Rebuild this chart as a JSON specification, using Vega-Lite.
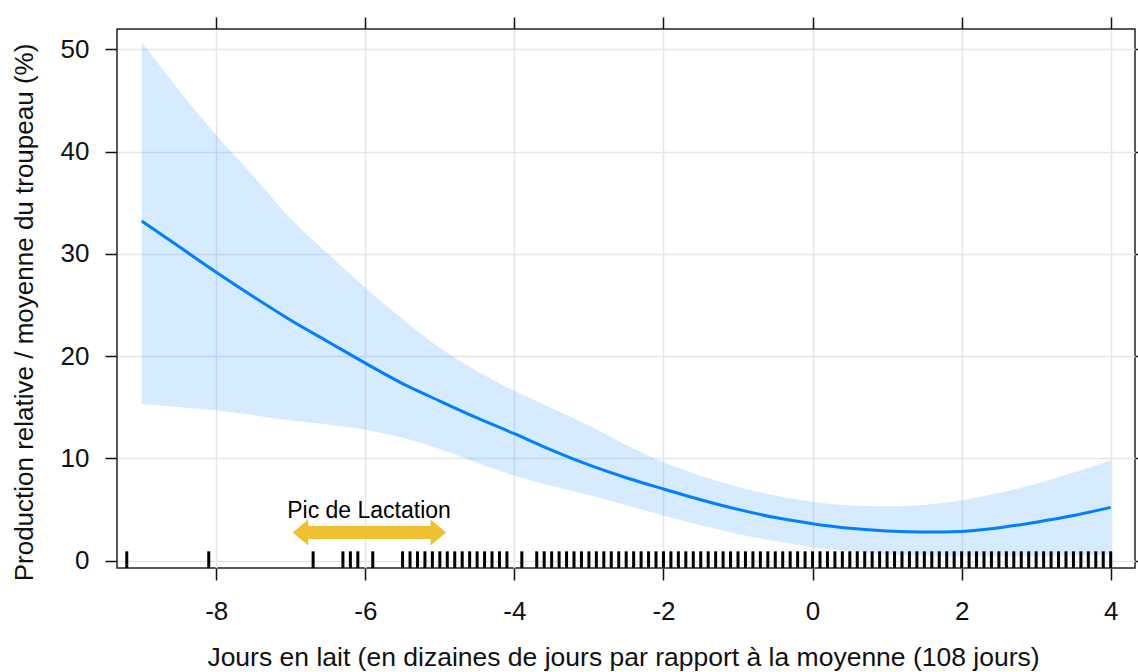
{
  "$schema": "https://vega.github.io/schema/vega-lite/v6.json",
  "width": 1018,
  "height": 539,
  "autosize": {"type": "none"},
  "padding": {"left": 117, "top": 29, "right": 3, "bottom": 104},
  "background": "white",
  "datasets": {
    "fit": [
      {"x": -9, "fit": 33.2, "lower": 15.3, "upper": 50.7},
      {"x": -8.5, "fit": 30.7, "lower": 15.0, "upper": 46.0},
      {"x": -8, "fit": 28.2, "lower": 14.7, "upper": 41.6},
      {"x": -7.5, "fit": 25.8, "lower": 14.2, "upper": 37.6},
      {"x": -7, "fit": 23.5, "lower": 13.7, "upper": 33.4},
      {"x": -6.5, "fit": 21.4, "lower": 13.3, "upper": 30.0},
      {"x": -6, "fit": 19.3, "lower": 12.8, "upper": 26.7},
      {"x": -5.5, "fit": 17.3, "lower": 12.0, "upper": 23.6},
      {"x": -5, "fit": 15.6, "lower": 10.9, "upper": 20.8},
      {"x": -4.5, "fit": 13.95, "lower": 9.55, "upper": 18.5},
      {"x": -4, "fit": 12.4, "lower": 8.3, "upper": 16.6},
      {"x": -3.5, "fit": 10.8, "lower": 7.3, "upper": 14.9},
      {"x": -3, "fit": 9.35, "lower": 6.4, "upper": 13.2},
      {"x": -2.5, "fit": 8.1, "lower": 5.4, "upper": 11.3},
      {"x": -2, "fit": 7.0, "lower": 4.4, "upper": 9.6},
      {"x": -1.5, "fit": 5.95, "lower": 3.45, "upper": 8.3},
      {"x": -1, "fit": 5.0, "lower": 2.6, "upper": 7.2},
      {"x": -0.5, "fit": 4.2, "lower": 1.9, "upper": 6.35},
      {"x": 0, "fit": 3.6, "lower": 1.3, "upper": 5.75},
      {"x": 0.5, "fit": 3.15, "lower": 0.9, "upper": 5.4},
      {"x": 1, "fit": 2.88, "lower": 0.6, "upper": 5.3},
      {"x": 1.5, "fit": 2.78, "lower": 0.5, "upper": 5.45},
      {"x": 2, "fit": 2.85, "lower": 0.4, "upper": 5.9},
      {"x": 2.5, "fit": 3.2, "lower": 0.4, "upper": 6.6},
      {"x": 3, "fit": 3.75, "lower": 0.4, "upper": 7.5},
      {"x": 3.5, "fit": 4.4, "lower": 0.5, "upper": 8.6},
      {"x": 4, "fit": 5.2, "lower": 0.6, "upper": 9.8}
    ],
    "rug": [
      {"x": -9.2}, {"x": -8.1}, {"x": -6.7}, {"x": -6.3}, {"x": -6.2}, {"x": -6.1}, {"x": -5.9},
      {"x": -5.5}, {"x": -5.4}, {"x": -5.3}, {"x": -5.2}, {"x": -5.1}, {"x": -5.0}, {"x": -4.9},
      {"x": -4.8}, {"x": -4.7}, {"x": -4.6}, {"x": -4.5}, {"x": -4.4}, {"x": -4.3}, {"x": -4.2},
      {"x": -4.1}, {"x": -3.9}, {"x": -3.7}, {"x": -3.6}, {"x": -3.5},
      {"x": -3.4}, {"x": -3.3}, {"x": -3.2}, {"x": -3.1}, {"x": -3.0}, {"x": -2.9}, {"x": -2.8},
      {"x": -2.7}, {"x": -2.6}, {"x": -2.5}, {"x": -2.4}, {"x": -2.3}, {"x": -2.2}, {"x": -2.1},
      {"x": -2.0}, {"x": -1.9}, {"x": -1.8}, {"x": -1.7}, {"x": -1.6}, {"x": -1.5}, {"x": -1.4},
      {"x": -1.3}, {"x": -1.2}, {"x": -1.1}, {"x": -1.0}, {"x": -0.9}, {"x": -0.8}, {"x": -0.7},
      {"x": -0.6}, {"x": -0.5}, {"x": -0.4}, {"x": -0.3}, {"x": -0.2}, {"x": -0.1}, {"x": 0.0},
      {"x": 0.1}, {"x": 0.2}, {"x": 0.3}, {"x": 0.4}, {"x": 0.5}, {"x": 0.6}, {"x": 0.7},
      {"x": 0.8}, {"x": 0.9}, {"x": 1.0}, {"x": 1.1}, {"x": 1.2}, {"x": 1.3}, {"x": 1.4},
      {"x": 1.5}, {"x": 1.6}, {"x": 1.7}, {"x": 1.8}, {"x": 1.9}, {"x": 2.0}, {"x": 2.1},
      {"x": 2.2}, {"x": 2.3}, {"x": 2.4}, {"x": 2.5}, {"x": 2.6}, {"x": 2.7}, {"x": 2.8},
      {"x": 2.9}, {"x": 3.0}, {"x": 3.1}, {"x": 3.2}, {"x": 3.3}, {"x": 3.4}, {"x": 3.5},
      {"x": 3.6}, {"x": 3.7}, {"x": 3.8}, {"x": 3.9}, {"x": 4.0}
    ],
    "arrow": [
      {"x": -6.87, "x2": -5.02, "y": 2.75, "lx": -5.95, "ly": 4.2, "label": "Pic de Lactation"}
    ]
  },
  "layer": [
    {
      "data": {"name": "fit"},
      "mark": {"type": "area", "color": "#0080ff", "opacity": 0.16, "interpolate": "monotone"},
      "encoding": {
        "x": {
          "field": "x", "type": "quantitative",
          "scale": {"domain": [-9.331, 4.326], "nice": false, "zero": false},
          "axis": {
            "orient": "bottom",
            "values": [-8, -6, -4, -2, 0, 2, 4],
            "labelExpr": "'' + datum.value",
            "title": "Jours en lait (en dizaines de jours par rapport à la moyenne (108 jours)",
            "titleFontSize": 26.5,
            "titleX": 506,
            "labelPadding": 18,
            "titlePadding": 20,
            "grid": true
          }
        },
        "y": {
          "field": "lower", "type": "quantitative",
          "scale": {"domain": [-0.73, 51.98], "nice": false, "zero": false},
          "axis": {
            "orient": "left",
            "values": [0, 10, 20, 30, 40, 50],
            "labelExpr": "'' + datum.value",
            "title": "Production relative / moyenne du troupeau (%)",
            "titleY": 283,
            "labelPadding": 16,
            "titlePadding": 23,
            "grid": true
          }
        },
        "y2": {"field": "upper"}
      }
    },
    {
      "data": {"name": "fit"},
      "mark": {"type": "line", "color": "#0080ff", "strokeWidth": 3, "interpolate": "monotone"},
      "encoding": {
        "x": {"field": "x", "type": "quantitative", "axis": null},
        "y": {"field": "fit", "type": "quantitative", "axis": null}
      }
    },
    {
      "data": {"name": "rug"},
      "mark": {"type": "rule", "color": "#000000", "strokeWidth": 3},
      "encoding": {
        "x": {"field": "x", "type": "quantitative", "axis": null},
        "y": {"datum": -0.73, "axis": null},
        "y2": {"datum": 0.9}
      }
    },
    {
      "data": {"name": "arrow"},
      "mark": {"type": "rule", "color": "#efc132", "strokeWidth": 13},
      "encoding": {
        "x": {"field": "x", "type": "quantitative", "axis": null},
        "x2": {"field": "x2"},
        "y": {"field": "y", "type": "quantitative", "axis": null}
      }
    },
    {
      "data": {"name": "arrow"},
      "mark": {"type": "point", "shape": "M-0.6,0L0.6,-1L0.6,1Z", "size": 676, "filled": true, "color": "#efc132", "opacity": 1, "strokeWidth": 0},
      "encoding": {
        "x": {"field": "x", "type": "quantitative", "axis": null},
        "y": {"field": "y", "type": "quantitative", "axis": null}
      }
    },
    {
      "data": {"name": "arrow"},
      "mark": {"type": "point", "shape": "M0.6,0L-0.6,-1L-0.6,1Z", "size": 676, "filled": true, "color": "#efc132", "opacity": 1, "strokeWidth": 0},
      "encoding": {
        "x": {"field": "x2", "type": "quantitative", "axis": null},
        "y": {"field": "y", "type": "quantitative", "axis": null}
      }
    },
    {
      "data": {"name": "arrow"},
      "mark": {"type": "text", "font": "Liberation Sans", "fontSize": 23, "color": "#000000", "baseline": "alphabetic", "align": "center"},
      "encoding": {
        "x": {"field": "lx", "type": "quantitative", "axis": null},
        "y": {"field": "ly", "type": "quantitative", "axis": null},
        "text": {"field": "label"}
      }
    },
    {
      "data": {"values": [{}]},
      "mark": {"type": "rule", "opacity": 0},
      "encoding": {
        "x": {"datum": 0, "type": "quantitative", "axis": {"orient": "top", "values": [-8, -6, -4, -2, 0, 2, 4], "labels": false, "title": null, "grid": false}},
        "y": {"datum": 0, "type": "quantitative", "axis": {"orient": "right", "values": [0, 10, 20, 30, 40, 50], "labels": false, "title": null, "grid": false}}
      }
    }
  ],
  "resolve": {"axis": {"x": "independent", "y": "independent"}},
  "config": {
    "view": {"stroke": "#222222", "strokeWidth": 1.5},
    "axis": {
      "domain": false,
      "labelFont": "Liberation Sans",
      "labelFontSize": 26,
      "labelColor": "#111111",
      "titleFont": "Liberation Sans",
      "titleFontSize": 26,
      "titleFontWeight": "normal",
      "titleColor": "#111111",
      "tickColor": "#111111",
      "tickWidth": 1.5,
      "tickSize": 12,
      "gridColor": "#e6e6e6",
      "gridWidth": 1.5,
      "labelFlush": false,
      "labelOverlap": false
    }
  }
}
